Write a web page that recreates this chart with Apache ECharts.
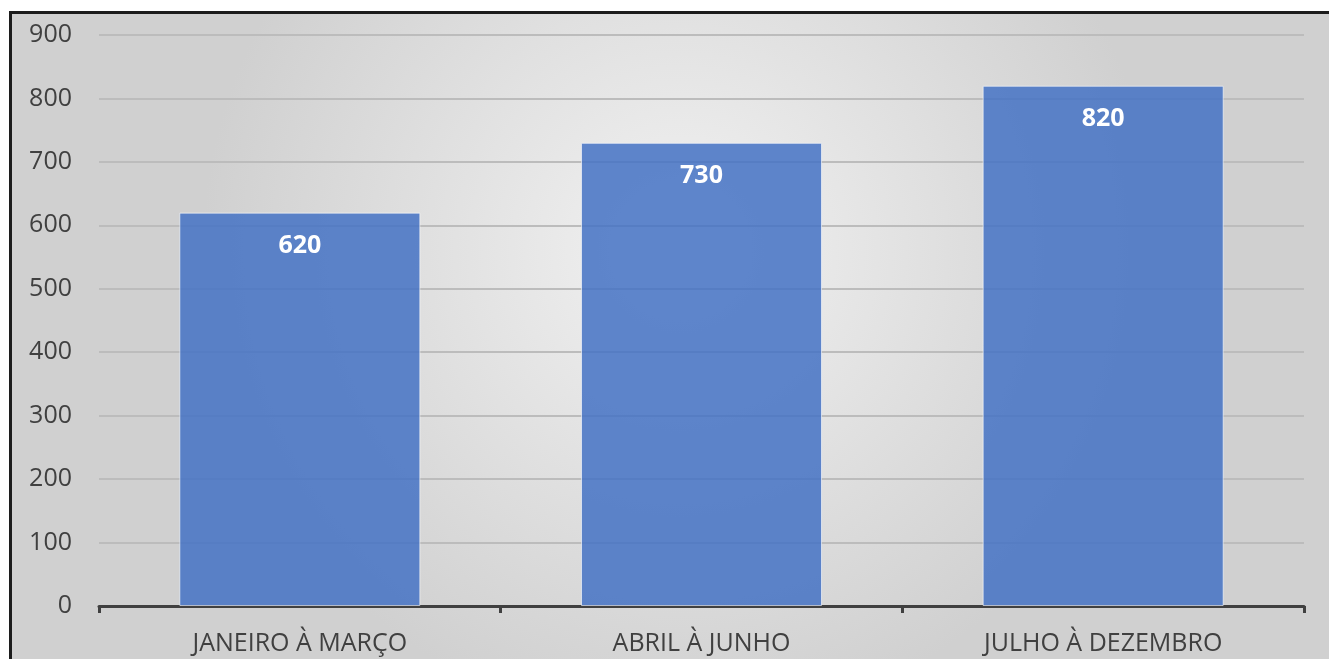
<!DOCTYPE html>
<html><head><meta charset="utf-8">
<script src="https://cdn.jsdelivr.net/npm/echarts@6/dist/echarts.min.js"></script>
<style>html,body{margin:0;padding:0;background:#fff;}#c{width:1329px;height:659px;}</style>
</head><body><div id="c"></div>
<script>
const categories = ['JANEIRO À MARÇO', 'ABRIL À JUNHO', 'JULHO À DEZEMBRO'];
const values = [620, 730, 820];
const yTicks = [0, 100, 200, 300, 400, 500, 600, 700, 800, 900];

const chart = echarts.init(document.getElementById('c'));
chart.setOption({
  animation: false,
  graphic: [{
    type: 'rect', z: -10, silent: true,
    shape: { x: 10.5, y: 12.5, width: 1340, height: 680 },
    style: {
      fill: new echarts.graphic.RadialGradient(0.5, 0.35, 0.7, [
        { offset: 0, color: '#f2f2f2' },
        { offset: 1, color: '#d0d0d0' }
      ]),
      stroke: '#1c1c1c', lineWidth: 3
    }
  }],
  grid: { left: 99, right: 25, top: 35, bottom: 53, containLabel: false },
  xAxis: {
    type: 'category', data: categories,
    axisLine: { show: true, lineStyle: { color: '#404040', width: 3 } },
    axisTick: { show: true, length: 7, lineStyle: { color: '#404040', width: 3 } },
    axisLabel: { color: '#404040', fontFamily: 'Open Sans', fontSize: 25, margin: 25 }
  },
  yAxis: {
    type: 'value', min: yTicks[0], max: yTicks[yTicks.length - 1], interval: 100,
    axisLine: { show: false }, axisTick: { show: false },
    axisLabel: { color: '#404040', fontFamily: 'Open Sans', fontSize: 25, margin: 27 },
    splitLine: { lineStyle: { color: '#bcbcbc', width: 2 } }
  },
  series: [{
    type: 'bar', data: values, barCategoryGap: '40%',
    itemStyle: { color: 'rgba(68,114,196,0.85)', borderColor: 'rgba(255,255,255,0.6)', borderWidth: 1 },
    label: {
      show: true, position: 'insideTop', distance: 21,
      color: '#ffffff', fontFamily: 'Open Sans', fontWeight: 'bold', fontSize: 25
    }
  }]
});
</script></body></html>
